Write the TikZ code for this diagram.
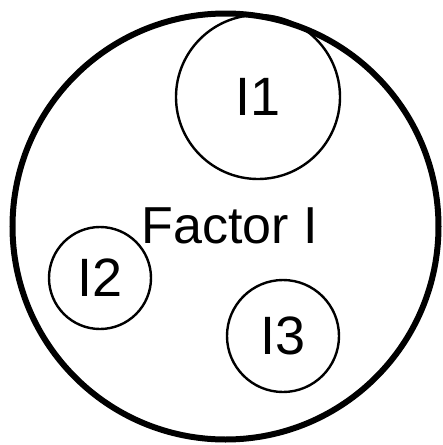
\documentclass[tikz,border=0pt]{standalone}
\usepackage{fontspec}
\setmainfont{Liberation Sans}
\begin{document}
\begin{tikzpicture}[x=0.5pt,y=-0.5pt,
    bigring/.style={circle,draw,line width=3pt,minimum size=213pt,inner sep=0pt},
    subring/.style={circle,draw,line width=1.2pt,inner sep=0pt,font=\fontsize{27}{27}\selectfont}]
        \useasboundingbox (0,0) rectangle (443,445);
        % cerchio esterno
        \node[bigring] (factor) at (225.5,226.5) {};
        \node[anchor=base west,inner sep=0pt,font=\fontsize{26}{26}\selectfont] (factorlabel) at (141,243) {Factor I};
        % sottocerchi
        \node[subring,minimum size=82pt] (i1) at (258,97) {I1};
        \node[subring,minimum size=51pt] (i2) at (100,278) {I2};
        \node[subring,minimum size=56pt] (i3) at (283,336) {I3};
    \end{tikzpicture}
\end{document}
